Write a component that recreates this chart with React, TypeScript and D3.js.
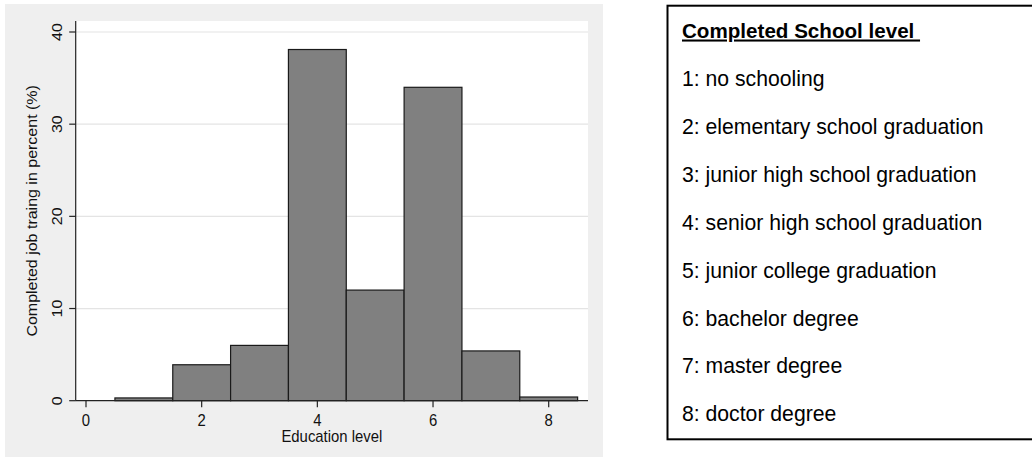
import React from "react";
import * as d3 from "d3";

const levels = [1, 2, 3, 4, 5, 6, 7, 8];
const percents = [0.3, 3.9, 6.0, 38.1, 12.0, 34.0, 5.4, 0.4];
const xTicks = [0, 2, 4, 6, 8];
const yTicks = [0, 10, 20, 30, 40];
const gridTicks = [10, 20, 30, 40];
const legendTitle = "Completed School level ";
const legendItems = [
  "1: no schooling",
  "2: elementary school graduation",
  "3: junior high school graduation",
  "4: senior high school graduation",
  "5: junior college graduation",
  "6: bachelor degree",
  "7: master degree",
  "8: doctor degree",
];
const xTitle = "Education level";
const yTitle = "Completed job traing in percent (%)";

export default function App() {
  const W = 1032;
  const H = 459;
  const plot = { left: 75.7, right: 588, top: 21, bottom: 400.7 };
  const x = d3.scaleLinear().domain([0, 8]).range([86, 548.7]);
  const y = d3.scaleLinear().domain([0, 40]).range([400.7, 32]);
  const font = "Arial, 'Liberation Sans', Helvetica, sans-serif";
  const hs = 0.93;

  const legendY = d3.scaleLinear().domain([0, 1]).range([86, 133.9]);

  return (
    <svg
      width={W}
      height={H}
      style={{ position: "absolute", left: 0, top: 0, background: "#ffffff" }}
      fontFamily={font}
    >
      <rect x={5} y={4} width={598} height={453} fill="#efefef" />
      <rect
        x={plot.left}
        y={plot.top}
        width={plot.right - plot.left}
        height={plot.bottom - plot.top}
        fill="#ffffff"
      />
      {gridTicks.map((t) => (
        <line
          key={"g" + t}
          x1={plot.left}
          x2={plot.right}
          y1={y(t)}
          y2={y(t)}
          stroke="#e4e4e4"
          strokeWidth={1.2}
        />
      ))}
      {levels.map((lv, i) => (
        <rect
          key={"b" + lv}
          x={x(lv - 0.5)}
          y={y(percents[i])}
          width={x(lv + 0.5) - x(lv - 0.5)}
          height={y(0) - y(percents[i])}
          fill="#808080"
          stroke="#1a1a1a"
          strokeWidth={1.2}
        />
      ))}
      {/* axes */}
      <line x1={plot.left} x2={plot.left} y1={plot.top} y2={plot.bottom} stroke="#222" strokeWidth={1.2} />
      <line x1={plot.left} x2={plot.right} y1={plot.bottom} y2={plot.bottom} stroke="#222" strokeWidth={1.2} />
      {yTicks.map((t) => (
        <g key={"yt" + t}>
          <line x1={plot.left - 6.5} x2={plot.left} y1={y(t)} y2={y(t)} stroke="#222" strokeWidth={1.2} />
          <text
            transform={`translate(62,${y(t)}) scale(${hs},1) rotate(-90)`}
            textAnchor="middle"
            fontSize={16}
            fill="#111"
          >
            {t}
          </text>
        </g>
      ))}
      {xTicks.map((t) => (
        <g key={"xt" + t}>
          <line x1={x(t)} x2={x(t)} y1={plot.bottom} y2={plot.bottom + 6.5} stroke="#222" strokeWidth={1.2} />
          <text
            transform={`translate(${x(t)},426) scale(${hs},1)`}
            textAnchor="middle"
            fontSize={16}
            fill="#111"
          >
            {t}
          </text>
        </g>
      ))}
      <text
        transform={`translate(${(plot.left + plot.right) / 2},442.3) scale(${hs},1)`}
        textAnchor="middle"
        fontSize={16}
        fill="#111"
      >
        {xTitle}
      </text>
      <text
        transform={`translate(37.3,${(plot.top + plot.bottom) / 2}) scale(${hs},1) rotate(-90)`}
        textAnchor="middle"
        fontSize={16}
        fill="#111"
      >
        {yTitle}
      </text>

      {/* legend */}
      <rect x={667.5} y={5.7} width={380} height={433.6} fill="#ffffff" stroke="#000" strokeWidth={2} />
      <text
        x={682}
        y={37.5}
        fontSize={20.6}
        fontWeight="bold"
        fill="#000"
        textDecoration="underline"
        style={{ whiteSpace: "pre" }}
      >
        {legendTitle}
      </text>
      {legendItems.map((s, i) => (
        <text key={"l" + i} x={682} y={legendY(i)} fontSize={21.2} fill="#000">
          {s}
        </text>
      ))}
    </svg>
  );
}
